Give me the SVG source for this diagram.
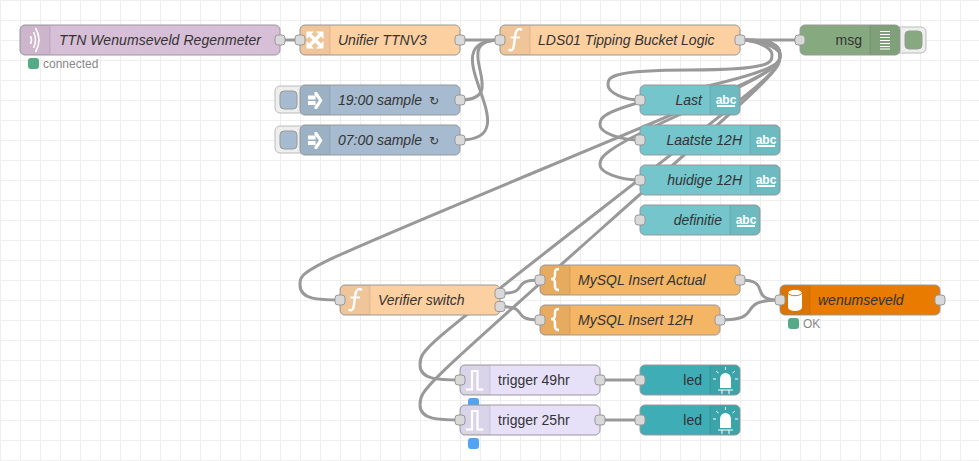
<svg xmlns="http://www.w3.org/2000/svg" xmlns:xlink="http://www.w3.org/1999/xlink" width="979" height="461" viewBox="0 0 979 461">
<style>
text{font-family:"Liberation Sans",Arial,"DejaVu Sans",sans-serif}
.b{stroke:#999;stroke-width:1}
.l{font-size:14px;fill:#333}
.i{font-style:italic}
.e{text-anchor:end}
.s{fill:rgba(0,0,0,.05);stroke:none}
.d{stroke:rgba(0,0,0,.1);stroke-width:1}
.p{fill:#d9d9d9;stroke:#999;stroke-width:1}
.w{fill:none;stroke:#999;stroke-width:3}
.st{font-size:12px;fill:#888}
.dot{stroke-width:2}
.g{fill:#5a8;stroke:#5a8}
.bl{fill:#53a3f3;stroke:#53a3f3}
.btn{fill:#eee;stroke:#bbb;stroke-width:1}
.ib{fill:none;stroke:#fff;stroke-linecap:butt}
.fn{fill:#fdd0a2}.inj{fill:#a6bbcf}.txt{fill:#74c5cc}.tpl{fill:#f4b565}.trg{fill:#e6e0f8}.led{fill:#3fadb5}
.abc{font-size:12px;font-weight:bold;fill:#fff;text-anchor:middle}
.ar{font-size:12px}
</style>
<defs>
<pattern id="grid" width="20" height="20" patternUnits="userSpaceOnUse"><path d="M0 .5H20M.5 0V20" fill="none" stroke="#eee"/></pattern>
<rect id="port" x="-5" y="-5" width="10" height="10" rx="3" class="p"/>
<g id="ic-fn"><path class="ib" stroke-width="2.400" d="M22 5C17.500 2.500 15.800 6 15.300 10L13.800 21C13.300 25.500 11 26 8.500 24.500"/><path class="ib" stroke-width="2" d="M10.500 12.500H20"/></g>
<g id="ic-inj"><rect x="8" y="10.500" width="7.500" height="4" fill="#fff"/><rect x="8" y="16" width="7.500" height="4" fill="#fff"/><path fill="#fff" d="M14.500 7L17 7L22.500 15.500L17 24L14.500 24L14.500 21.500L19 15.500L14.500 9.500Z"/></g>
<g id="ic-tpl"><path class="ib" stroke-width="2.500" d="M19 4C14 4 15 7 15 10C15 13 14 14 11 14C14 14 15 15 15 18C15 21 14 25 19 25"/></g>
<g id="ic-trg"><path class="ib" stroke-width="2.200" d="M6 24.500H12V6H17.500V24.500H23.500"/></g>
<g id="ic-led"><path fill="#fff" d="M10 23V14A5.500 6 0 0 1 21 14V23Z"/><path class="ib" stroke-width="1" d="M8 25H23M12 25V29M19 25V29M15.500 2V5M6 6L8.500 8M25 6L22.500 8M3 14H6M25 14H28"/></g>
<g id="ic-abc"><text class="abc" x="16" y="18.500">abc</text><rect x="7" y="20" width="18" height="2" fill="#fff"/></g>
</defs>
<rect width="979" height="461" fill="#fff"/>
<rect width="979" height="461" fill="url(#grid)"/>

<g id="connectors">
<path class="w" d="M280 40H300"/>
<path class="w" d="M460 40H500"/>
<path class="w" d="M460 100C514 100 446 40 500 40"/>
<path class="w" d="M460 140C535 140 425 40 500 40"/>
<path class="w" d="M740 40H800"/>
<path class="w" d="M740 40C756 40 772 47.500 772 55S772 70 690 70S608 77.500 608 85S624 100 640 100"/>
<path class="w" d="M740 40C760 40 780 47.500 780 55S780 70 690 90S600 117.500 600 125S620 140 640 140"/>
<path class="w" d="M740 40C760 40 780 47.500 780 55S780 70 690 110S600 157.500 600 165S620 180 640 180"/>
<path class="w" d="M740 40C760 40 780 40 780 55S780 70 540 170S300 270 300 285S320 300 340 300"/>
<path class="w" d="M740 40C760 40 780 40 780 55S780 70 600 210S420 350 420 365S440 380 460 380"/>
<path class="w" d="M740 40C760 40 780 40 780 55S780 70 600 230S420 390 420 405S440 420 460 420"/>
<path class="w" d="M500 293.500C531.500 293.500 508.500 280 540 280"/>
<path class="w" d="M500 306.500C531.500 306.500 508.500 320 540 320"/>
<path class="w" d="M740 280C773.500 280 746.500 300 780 300"/>
<path class="w" d="M720 320C767.400 320 732.600 300 780 300"/>
<path class="w" d="M600 380H640"/>
<path class="w" d="M600 420H640"/>
</g>

<g id="n-ttn">
<rect class="b" x="20" y="25" width="260" height="30" rx="5" fill="#d8bfd8"/>
<path class="s" d="M25 25H50V55H25A5 5 0 0 1 20 50V30A5 5 0 0 1 25 25Z"/><path class="d" d="M50 26V54"/>
<path class="ib" stroke-width="1.600" d="M30.500 36Q32.500 40 30.500 44M33.500 32Q37.500 40 33.500 48M35.500 28Q42.500 40 35.500 52"/>
<text class="l i" x="59" y="45" textLength="202">TTN Wenumseveld Regenmeter</text>
<use href="#port" x="280" y="40"/>
<rect class="dot g" x="29" y="59" width="9" height="9" rx="2"/>
<text class="st" x="43" y="68">connected</text>
</g>

<g id="n-unifier">
<rect class="b fn" x="300" y="25" width="160" height="30" rx="5"/>
<path class="s" d="M305 25H330V55H305A5 5 0 0 1 300 50V30A5 5 0 0 1 305 25Z"/><path class="d" d="M330 26V54"/>
<path stroke="#fff" stroke-width="3.500" fill="none" d="M309 34L321 46M321 34L309 46"/>
<path fill="#fff" d="M306.500 31.500H314L306.500 39ZM323.500 31.500V39L316 31.500ZM306.500 48.500V41L314 48.500ZM323.500 48.500H316L323.500 41Z"/>
<text class="l i" x="338" y="45">Unifier TTNV3</text>
<use href="#port" x="300" y="40"/><use href="#port" x="460" y="40"/>
</g>

<g id="n-lds01">
<rect class="b fn" x="500" y="25" width="240" height="30" rx="5"/>
<path class="s" d="M505 25H530V55H505A5 5 0 0 1 500 50V30A5 5 0 0 1 505 25Z"/><path class="d" d="M530 26V54"/>
<use href="#ic-fn" x="500" y="25"/>
<text class="l i" x="538" y="45">LDS01 Tipping Bucket Logic</text>
<use href="#port" x="500" y="40"/><use href="#port" x="740" y="40"/>
</g>

<g id="n-msg">
<rect class="btn" x="895" y="27" width="31" height="26" rx="5"/>
<rect x="905" y="31" width="17" height="18" rx="4" fill="#87a980" stroke="#999" stroke-width="1"/>
<rect class="b" x="800" y="25" width="100" height="30" rx="5" fill="#87a980"/>
<path class="s" d="M870 25H895A5 5 0 0 1 900 30V50A5 5 0 0 1 895 55H870Z"/><path class="d" d="M870 26V54"/>
<path class="ib" stroke-width="1.200" d="M880 31.500H890M880 34.500H890M880 37.500H890M880 40.500H890M880 43.500H890M880 46.500H890M880 49H890"/>
<text class="l e" x="862" y="45">msg</text>
<use href="#port" x="800" y="40"/>
</g>

<g id="n-1900">
<rect class="btn" x="275" y="86" width="31" height="27" rx="5"/>
<rect x="280" y="91" width="17" height="18" rx="4" class="inj" stroke="#999" stroke-width="1"/>
<rect class="b inj" x="300" y="85" width="160" height="30" rx="5"/>
<path class="s" d="M305 85H330V115H305A5 5 0 0 1 300 110V90A5 5 0 0 1 305 85Z"/><path class="d" d="M330 86V114"/>
<use href="#ic-inj" x="300" y="85"/>
<text class="l i" x="338" y="105">19:00 sample <tspan class="ar" dx="3">↻</tspan></text>
<use href="#port" x="460" y="100"/>
</g>

<g id="n-0700">
<rect class="btn" x="275" y="126" width="31" height="27" rx="5"/>
<rect x="280" y="131" width="17" height="18" rx="4" class="inj" stroke="#999" stroke-width="1"/>
<rect class="b inj" x="300" y="125" width="160" height="30" rx="5"/>
<path class="s" d="M305 125H330V155H305A5 5 0 0 1 300 150V130A5 5 0 0 1 305 125Z"/><path class="d" d="M330 126V154"/>
<use href="#ic-inj" x="300" y="125"/>
<text class="l i" x="338" y="145">07:00 sample <tspan class="ar" dx="3">↻</tspan></text>
<use href="#port" x="460" y="140"/>
</g>

<g id="n-last">
<rect class="b txt" x="640" y="85" width="100" height="30" rx="5"/>
<path class="s" d="M710 85H735A5 5 0 0 1 740 90V110A5 5 0 0 1 735 115H710Z"/><path class="d" d="M710 86V114"/>
<use href="#ic-abc" x="710" y="85"/>
<text class="l i e" x="702" y="105">Last</text>
<use href="#port" x="640" y="100"/>
</g>

<g id="n-laatste">
<rect class="b txt" x="640" y="125" width="140" height="30" rx="5"/>
<path class="s" d="M750 125H775A5 5 0 0 1 780 130V150A5 5 0 0 1 775 155H750Z"/><path class="d" d="M750 126V154"/>
<use href="#ic-abc" x="750" y="125"/>
<text class="l i e" x="742" y="145">Laatste 12H</text>
<use href="#port" x="640" y="140"/>
</g>

<g id="n-huidige">
<rect class="b txt" x="640" y="165" width="140" height="30" rx="5"/>
<path class="s" d="M750 165H775A5 5 0 0 1 780 170V190A5 5 0 0 1 775 195H750Z"/><path class="d" d="M750 166V194"/>
<use href="#ic-abc" x="750" y="165"/>
<text class="l i e" x="742" y="185">huidige 12H</text>
<use href="#port" x="640" y="180"/>
</g>

<g id="n-definitie">
<rect class="b txt" x="640" y="205" width="120" height="30" rx="5"/>
<path class="s" d="M730 205H755A5 5 0 0 1 760 210V230A5 5 0 0 1 755 235H730Z"/><path class="d" d="M730 206V234"/>
<use href="#ic-abc" x="730" y="205"/>
<text class="l i e" x="722" y="225">definitie</text>
<use href="#port" x="640" y="220"/>
</g>

<g id="n-verifier">
<rect class="b fn" x="340" y="285" width="160" height="30" rx="5"/>
<path class="s" d="M345 285H370V315H345A5 5 0 0 1 340 310V290A5 5 0 0 1 345 285Z"/><path class="d" d="M370 286V314"/>
<use href="#ic-fn" x="340" y="285"/>
<text class="l i" x="378" y="305">Verifier switch</text>
<use href="#port" x="340" y="300"/><use href="#port" x="500" y="293.500"/><use href="#port" x="500" y="306.500"/>
</g>

<g id="n-insert-actual">
<rect class="b tpl" x="540" y="265" width="200" height="30" rx="5"/>
<path class="s" d="M545 265H570V295H545A5 5 0 0 1 540 290V270A5 5 0 0 1 545 265Z"/><path class="d" d="M570 266V294"/>
<use href="#ic-tpl" x="540" y="265"/>
<text class="l i" x="578" y="285">MySQL Insert Actual</text>
<use href="#port" x="540" y="280"/><use href="#port" x="740" y="280"/>
</g>

<g id="n-insert-12h">
<rect class="b tpl" x="540" y="305" width="180" height="30" rx="5"/>
<path class="s" d="M545 305H570V335H545A5 5 0 0 1 540 330V310A5 5 0 0 1 545 305Z"/><path class="d" d="M570 306V334"/>
<use href="#ic-tpl" x="540" y="305"/>
<text class="l i" x="578" y="325">MySQL Insert 12H</text>
<use href="#port" x="540" y="320"/><use href="#port" x="720" y="320"/>
</g>

<g id="n-wenumseveld">
<rect class="b" x="780" y="285" width="160" height="30" rx="5" fill="#e97b00"/>
<path class="s" d="M785 285H810V315H785A5 5 0 0 1 780 310V290A5 5 0 0 1 785 285Z"/><path class="d" d="M810 286V314"/>
<path fill="#fff" d="M788 293V307.500A7 3.500 0 0 0 802 307.500V293Z"/>
<ellipse cx="795" cy="292.500" rx="7" ry="3.200" fill="#fff" stroke="#dd7400" stroke-width="1"/>
<text class="l i" x="818" y="305">wenumseveld</text>
<use href="#port" x="780" y="300"/><use href="#port" x="940" y="300"/>
<rect class="dot g" x="789" y="319" width="9" height="9" rx="2"/>
<text class="st" x="803" y="328">OK</text>
</g>

<g id="n-trigger49">
<rect class="dot bl" x="469" y="399" width="9" height="9" rx="2"/>
<rect class="b trg" x="460" y="365" width="140" height="30" rx="5"/>
<path class="s" d="M465 365H490V395H465A5 5 0 0 1 460 390V370A5 5 0 0 1 465 365Z"/><path class="d" d="M490 366V394"/>
<use href="#ic-trg" x="460" y="365"/>
<text class="l" x="498" y="385">trigger 49hr</text>
<use href="#port" x="460" y="380"/><use href="#port" x="600" y="380"/>
</g>

<g id="n-trigger25">
<rect class="b trg" x="460" y="405" width="140" height="30" rx="5"/>
<path class="s" d="M465 405H490V435H465A5 5 0 0 1 460 430V410A5 5 0 0 1 465 405Z"/><path class="d" d="M490 406V434"/>
<use href="#ic-trg" x="460" y="405"/>
<text class="l" x="498" y="425">trigger 25hr</text>
<use href="#port" x="460" y="420"/><use href="#port" x="600" y="420"/>
<rect class="dot bl" x="469" y="439" width="9" height="9" rx="2"/>
</g>

<g id="n-led1">
<rect class="b led" x="640" y="365" width="100" height="30" rx="5"/>
<path class="s" d="M710 365H735A5 5 0 0 1 740 370V390A5 5 0 0 1 735 395H710Z"/><path class="d" d="M710 366V394"/>
<use href="#ic-led" x="710" y="365"/>
<text class="l e" x="702" y="385">led</text>
<use href="#port" x="640" y="380"/>
</g>

<g id="n-led2">
<rect class="b led" x="640" y="405" width="100" height="30" rx="5"/>
<path class="s" d="M710 405H735A5 5 0 0 1 740 410V430A5 5 0 0 1 735 435H710Z"/><path class="d" d="M710 406V434"/>
<use href="#ic-led" x="710" y="405"/>
<text class="l e" x="702" y="425">led</text>
<use href="#port" x="640" y="420"/>
</g>
</svg>
